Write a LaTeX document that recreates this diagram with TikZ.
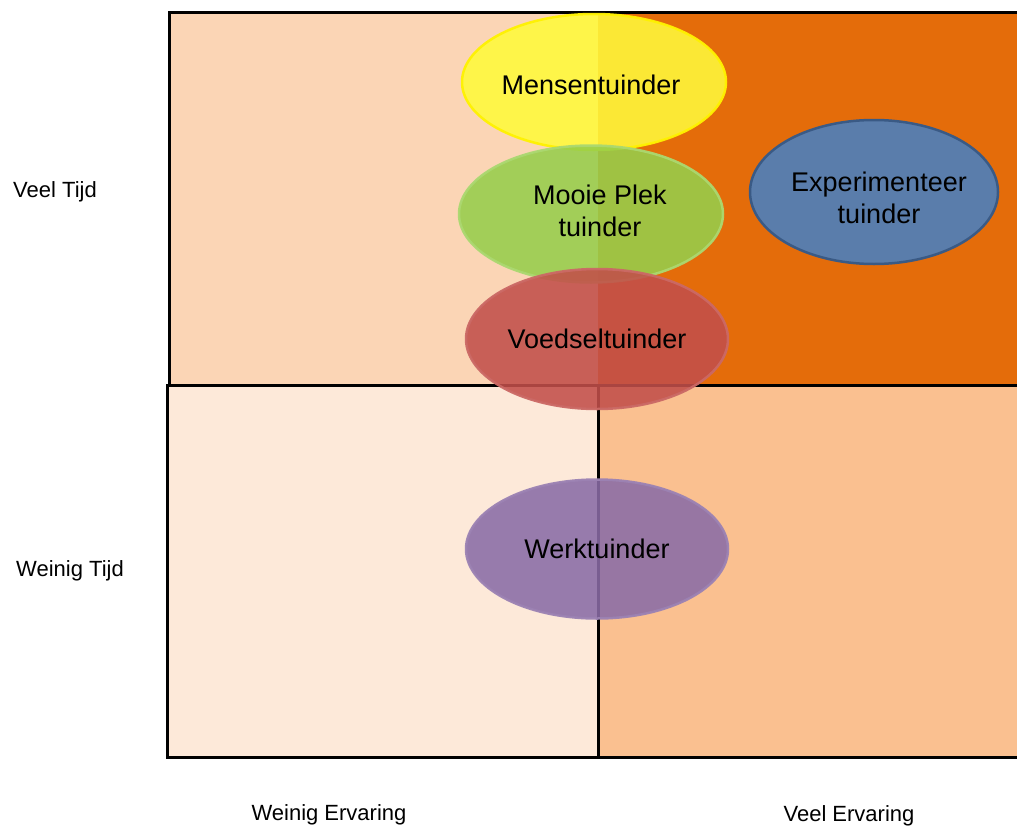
\documentclass[tikz,border=0pt]{standalone}
\usepackage{fontspec}
\setmainfont{Liberation Sans}
\usetikzlibrary{shapes.geometric, positioning}

\definecolor{peach}{HTML}{FBD5B5}
\definecolor{darkorange}{HTML}{E46C0A}
\definecolor{palepeach}{HTML}{FDE9D9}
\definecolor{apricot}{HTML}{FAC090}
\definecolor{tuinyellow}{HTML}{FFFA3B}
\definecolor{tuingreen}{HTML}{96CE4C}
\definecolor{tuinred}{HTML}{C24F4A}
\definecolor{tuinblue}{HTML}{5A7DAB}
\definecolor{tuinblueline}{HTML}{3A5A85}
\definecolor{tuinpurple}{HTML}{8A6CA6}

\begin{document}
\begin{tikzpicture}[
        x=1pt, y=-1pt,
        every node/.style={align=center, font=\fontsize{27}{32}\selectfont, inner sep=0pt},
        tuin/.style={ellipse, minimum width=264pt, minimum height=136pt,
                     fill opacity=0.88, draw opacity=0.95, text opacity=1, line width=2.5pt},
        aslabel/.style={font=\fontsize{22}{26}\selectfont}
    ]
      \useasboundingbox (0,0) rectangle (1017,827);

      % quadrants
      \fill[peach] (169,12) rectangle (598,385);
      \fill[darkorange] (598,12) rectangle (1030,385);
      \draw[line width=3pt] (1030,12) -- (169,12) -- (169,385) -- (1030,385);
      \draw[line width=3pt, fill=palepeach] (167,385) rectangle (598,757);
      \draw[line width=3pt, fill=apricot] (598,385) rectangle (1030,757);

      % tuinders
      \node[tuin, fill=tuinyellow, draw=yellow] (mens) at (594,82) {};
      \node[tuin, fill=tuingreen, draw=tuingreen!80!white, minimum height=137pt] (mooi) at (591,214) {};
      \node[tuin, fill=tuinred, draw=tuinred!85!white, minimum width=262pt, minimum height=140pt] (voedsel) at (597,339) {};
      \node[tuin, fill=tuinblue, draw=tuinblueline, fill opacity=1, draw opacity=1,
            minimum width=248pt, minimum height=144pt] (exp) at (874,192) {};
      \node[tuin, fill=tuinpurple, draw=tuinpurple!85!white, minimum width=262pt, minimum height=139pt] (werk) at (597,549) {};

      \node (menstext) at ([shift={(-3,3)}]mens.center) {Mensentuinder};
      \node (mooitext) at ([shift={(9,-3)}]mooi.center) {Mooie Plek\\tuinder};
      \node (voedseltext) at (voedsel.center) {Voedseltuinder};
      \node (exptext) at ([shift={(5,6)}]exp.center) {Experimenteer\\tuinder};
      \node (werktext) at (werk.center) {Werktuinder};

      % assen
      \node[aslabel] (veeltijd) at (55,192) {Veel Tijd};
      \node[aslabel] (weinigtijd) at (70,571) {Weinig Tijd};
      \node[aslabel, anchor=base] (weinigerv) at (329,820) {Weinig Ervaring};
      \node[aslabel, anchor=base] (veelerv) at (849,821) {Veel Ervaring};
    \end{tikzpicture}
\end{document}
